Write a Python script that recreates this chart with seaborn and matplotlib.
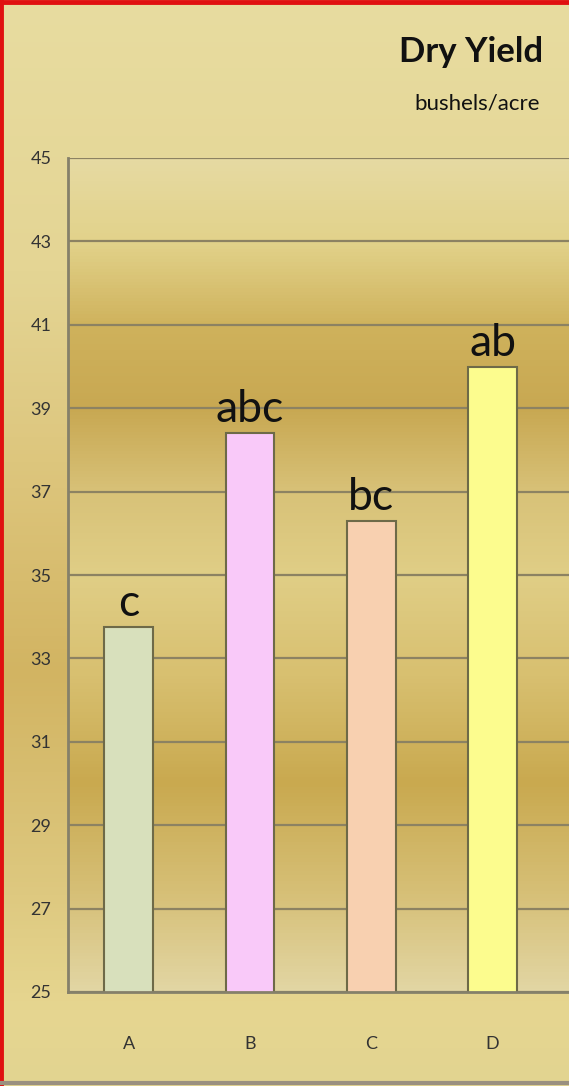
import numpy as np
import pandas as pd
import matplotlib.pyplot as plt
from matplotlib.colors import LinearSegmentedColormap
import seaborn as sb

# data
treatments = ['A', 'B', 'C', 'D']
dry_yield = [33.75, 38.4, 36.3, 40.0]
letters = ['c', 'abc', 'bc', 'ab']
bar_colors = ['#d8e0bc', '#f9c9f9', '#f8d0b0', '#fcfc8e']

df = pd.DataFrame({'trt': treatments, 'yield': dry_yield})

sb.set_style('white')
plt.rcParams['font.family'] = ['Lato', 'DejaVu Sans']

fig = plt.figure(figsize=(5.69, 10.86), dpi=100)

# figure background gradient (top -> bottom)
bg = fig.add_axes([0, 0, 1, 1], zorder=-10)
bg_cmap = LinearSegmentedColormap.from_list('bg', [
    (0.0, '#e8dca0'), (0.25, '#e4d594'), (0.45, '#dcc47a'),
    (0.62, '#d2b462'), (0.8, '#dcc67c'), (0.93, '#e6d690'), (1.0, '#e2d490')])
bg.imshow(np.linspace(0, 1, 256).reshape(-1, 1), cmap=bg_cmap, aspect='auto',
          extent=[0, 1, 0, 1])
bg.set_axis_off()

ax = fig.add_axes([68 / 569, 94 / 1086, 1 - 68 / 569, 834 / 1086])

# plot area gradient (top -> bottom)
pa_cmap = LinearSegmentedColormap.from_list('pa', [
    (0.0, '#e6daa2'), (0.1, '#e2d28a'), (0.2, '#cfb25c'), (0.3, '#c8a852'),
    (0.4, '#d8c278'), (0.5, '#e0ce86'), (0.62, '#d8c070'), (0.75, '#c9a94f'),
    (0.88, '#d6bf76'), (1.0, '#e2d6a4')])
ax.imshow(np.linspace(0, 1, 256).reshape(-1, 1), cmap=pa_cmap, aspect='auto',
          extent=[0, 1, 0, 1], transform=ax.transAxes, zorder=0)

sb.barplot(data=df, x='trt', y='yield', hue='trt', palette=bar_colors,
           saturation=1, legend=False, width=0.40, edgecolor='#6e6a48',
           linewidth=1.5, zorder=3, ax=ax)

for cont, lab in zip(ax.containers, letters):
    ax.bar_label(cont, labels=[lab], padding=2, fontsize=32, color='#111111')

ax.set_ylim(25, 45)
ax.set_xlim(-0.5, 3.63)
ax.set_yticks(np.arange(25, 46, 2))
ax.yaxis.grid(True, color='#8c8262', linewidth=1.6, zorder=1)
ax.set_axisbelow(False)
for gl in ax.get_ygridlines():
    gl.set_zorder(1)
ax.set_xlabel('')
ax.set_ylabel('')
ax.tick_params(axis='y', labelsize=13, labelcolor='#333333', length=0, pad=12)
ax.tick_params(axis='x', labelsize=13, labelcolor='#333333', length=0, pad=32)
for s in ['top', 'right']:
    ax.spines[s].set_visible(False)
for s in ['left', 'bottom']:
    ax.spines[s].set_color('#85806a')
    ax.spines[s].set_linewidth(2)
    ax.spines[s].set_zorder(4)
ax.set_facecolor('none')

fig.text(543 / 569, 1 - 52 / 1086, 'Dry Yield', ha='right', va='center',
         fontsize=25, fontweight='bold', color='#111111')
fig.text(540 / 569, 1 - 104 / 1086, 'bushels/acre', ha='right', va='center',
         fontsize=16, color='#111111')

# red frame on left/top, grey line at bottom
fig.add_artist(plt.Line2D([0.002, 0.002], [0, 1], color='#e01010', linewidth=3.5,
                          transform=fig.transFigure))
fig.add_artist(plt.Line2D([0, 1], [0.998, 0.998], color='#e01010', linewidth=3.5,
                          transform=fig.transFigure))
fig.add_artist(plt.Line2D([0, 1], [3 / 1086, 3 / 1086], color='#9a9080', linewidth=3,
                          transform=fig.transFigure))

fig.savefig('out.png', dpi=100)
